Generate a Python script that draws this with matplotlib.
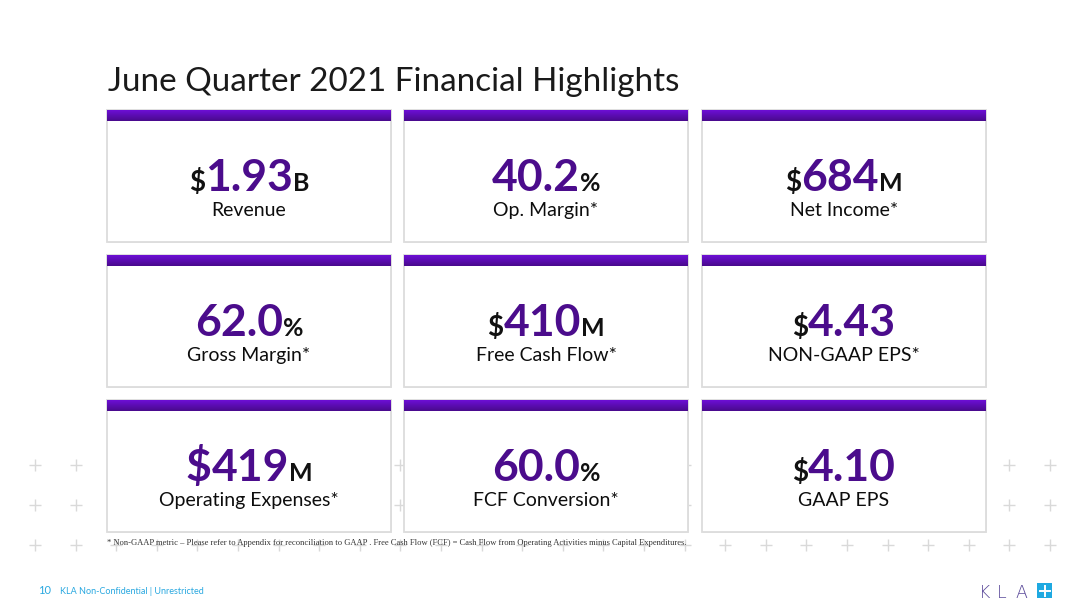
import matplotlib.pyplot as plt
import numpy as np
from matplotlib.patches import Rectangle
from matplotlib.colors import LinearSegmentedColormap

# card contents, read left to right, top to bottom
values = ["1.93", "40.2", "684", "62.0", "410", "4.43", "419", "60.0", "4.10"]
prefixes = ["$", "", "$", "", "$", "$", "$", "", "$"]
suffixes = ["B", "%", "M", "%", "M", "", "M", "%", ""]
labels = ["Revenue", "Op. Margin*", "Net Income*",
          "Gross Margin*", "Free Cash Flow*", "NON-GAAP EPS*",
          "Operating Expenses*", "FCF Conversion*", "GAAP EPS"]
big_prefix = [False, False, False, False, False, False, True, False, False]

title = "June Quarter 2021 Financial Highlights"
footnote = ("* Non-GAAP metric \u2013 Please refer to Appendix for reconciliation to GAAP . "
            "Free Cash Flow (FCF) = Cash Flow from Operating Activities minus Capital Expenditures.")
page_no = "10"
footer = "KLA Non-Confidential | Unrestricted"
logo = "KLA"

PURPLE = "#4b0c8c"
FONT = "Lato"

fig = plt.figure(figsize=(10.8, 6.07), dpi=100)
ax = fig.add_axes([0, 0, 1, 1])
ax.set_xlim(0, 1080)
ax.set_ylim(607, 0)
ax.axis("off")
r = fig.canvas.get_renderer()


def width(t):
    return t.get_window_extent(renderer=r).width


# background plus grid
gx = np.linspace(35, 1050, 26)
for gy in [465, 505, 545]:
    ax.plot(gx, [gy] * len(gx), ls="none", marker="+", ms=9, mew=1,
            color="#d9d9d9", zorder=0)

# title, fitted to its width on the slide
t = ax.text(108, 91, title, fontsize=24, family=FONT, color="#1a1a1a", va="baseline")
t.set_fontsize(24 * 572 / width(t))

col_x = [107, 404, 702]
row_y = [110, 255, 400]
box_w, box_h = 284, 132
grad = np.linspace(0, 1, 20).reshape(-1, 1)
bar_cmap = LinearSegmentedColormap.from_list("bar", ["#6c0fd4", "#4a0a8e"])

for i in range(9):
    x0 = col_x[i % 3]
    y0 = row_y[i // 3]
    ax.add_patch(Rectangle((x0 + 1, y0 + 1), box_w, box_h, fc="#f0f0f0", ec="none", zorder=1))
    ax.add_patch(Rectangle((x0, y0), box_w, box_h, fc="white", ec="#dcdcdc", lw=1.3, zorder=2))
    ax.imshow(grad, cmap=bar_cmap, extent=(x0, x0 + box_w, y0 + 11, y0),
              aspect="auto", zorder=3)
    cx = x0 + box_w / 2
    base = y0 + 81
    pieces = []
    if prefixes[i]:
        if big_prefix[i]:
            pieces.append(ax.text(0, base, prefixes[i], fontsize=32, weight="bold",
                                  family=FONT, color=PURPLE, va="baseline", zorder=4))
        else:
            pieces.append(ax.text(0, base, prefixes[i], fontsize=20, weight="bold",
                                  family=FONT, color="#111111", va="baseline", zorder=4))
    pieces.append(ax.text(0, base, values[i], fontsize=32, weight="bold",
                          family=FONT, color=PURPLE, va="baseline", zorder=4))
    if suffixes[i]:
        pieces.append(ax.text(0, base, suffixes[i], fontsize=18, weight="bold",
                              family=FONT, color="#111111", va="baseline", zorder=4))
    ws = [width(p) for p in pieces]
    xx = cx - sum(ws) / 2
    for p, w in zip(pieces, ws):
        p.set_x(xx)
        xx += w
    ax.text(cx, y0 + 106, labels[i], fontsize=14, family=FONT, color="#0d0d0d",
            ha="center", va="baseline", zorder=4)

# footnote
fn = ax.text(107, 545, footnote, fontsize=6, family="Liberation Serif",
             color="#333333", va="baseline", zorder=4)
fn.set_fontsize(6 * 583 / width(fn))

# footer
ax.text(38, 594, page_no, fontsize=8, family=FONT, color="#29a8e0", va="baseline")
ax.text(60, 594, footer, fontsize=6.5, family=FONT, color="#29a8e0", va="baseline")

# logo: widely spaced thin letters and a blue plus tile
for k, ch in enumerate(logo):
    ax.text(979 + 18 * k, 597.5, ch, fontsize=12.5, family="DejaVu Sans",
            weight="light", color="#5b4a9a", va="baseline")
ax.add_patch(Rectangle((1037, 583), 15, 15, fc="#1ea9e1", ec="none"))
ax.plot([1039.5, 1049.5], [590.5, 590.5], color="white", lw=1.4)
ax.plot([1044.5, 1044.5], [585.5, 595.5], color="white", lw=1.4)

fig.savefig("out.png", dpi=100)
